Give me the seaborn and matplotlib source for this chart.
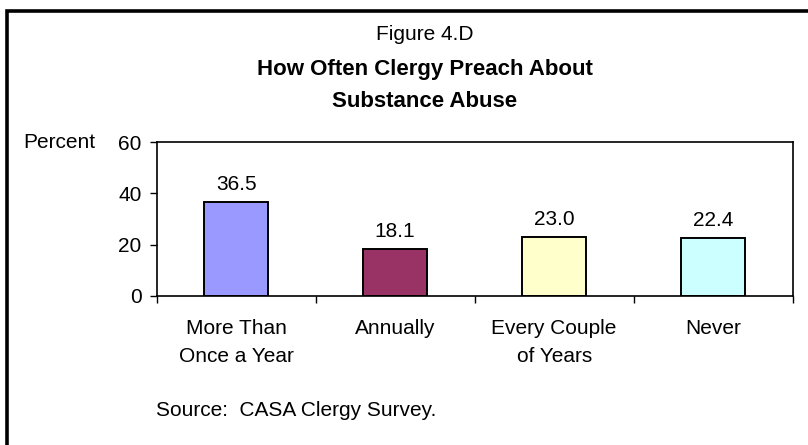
import matplotlib
matplotlib.use("Agg")
import matplotlib.pyplot as plt
import seaborn as sns
import pandas as pd
from matplotlib.patches import Rectangle

# data
categories = ["More Than\nOnce a Year", "Annually", "Every Couple\nof Years", "Never"]
percents = [36.5, 18.1, 23.0, 22.4]
bar_colors = ["#9999FF", "#993366", "#FFFFCC", "#CCFFFF"]
y_ticks = [0, 20, 40, 60]

sns.set_style("white")
plt.rcParams['font.family'] = ['Liberation Sans', 'DejaVu Sans']
plt.rcParams['text.color'] = 'black'
plt.rcParams['xtick.color'] = 'black'
plt.rcParams['ytick.color'] = 'black'
plt.rcParams['axes.labelcolor'] = 'black'

df = pd.DataFrame({'category': categories, 'percent': percents})

fig = plt.figure(figsize=(8.08, 4.45), dpi=100)
ax = fig.add_axes([0.1939, 0.3355, 0.7871, 0.3447])

sns.barplot(data=df, x='category', y='percent', hue='category',
            palette=bar_colors, legend=False, width=0.4,
            edgecolor='black', linewidth=1.4, saturation=1, ax=ax)

ax.set_ylim(0, 60)
ax.set_xlim(-0.5, 3.5)
ax.set_yticks(y_ticks)
ax.set_xlabel('')
ax.set_ylabel('')
ax.tick_params(axis='y', direction='out', length=5, width=1, pad=6,
               labelsize=15, left=True)
ax.tick_params(axis='x', bottom=False, labelsize=15, pad=13)
# tick marks between categories
ax.set_xticks([-0.5, 0.5, 1.5, 2.5, 3.5], minor=True)
ax.tick_params(axis='x', which='minor', bottom=True, direction='out',
               length=5, width=1)
for lab in ax.get_xticklabels():
    lab.set_linespacing(1.6)
for sp in ax.spines.values():
    sp.set_visible(True)
    sp.set_color('black')
    sp.set_linewidth(1.2)

for c in ax.containers:
    ax.bar_label(c, fmt='%.1f', padding=6, fontsize=15)

# outer frame (runs past the right and bottom edges)
fig.patches.append(Rectangle((7 / 808, -0.2), 1.2, 1.2 - 11 / 445,
                             transform=fig.transFigure, fill=False,
                             edgecolor='black', linewidth=2.6))

fig.text(425 / 808, 1 - 40 / 445, "Figure 4.D", ha='center', va='baseline', fontsize=15)
fig.text(425 / 808, 1 - 75 / 445, "How Often Clergy Preach About", ha='center',
         va='baseline', fontsize=16, fontweight='bold')
fig.text(425 / 808, 1 - 106.7 / 445, "Substance Abuse", ha='center',
         va='baseline', fontsize=16, fontweight='bold')
fig.text(23 / 808, 1 - 148 / 445, "Percent", ha='left', va='baseline', fontsize=15)
fig.text(156 / 808, 1 - 416 / 445, "Source:  CASA Clergy Survey.", ha='left',
         va='baseline', fontsize=15)

fig.savefig("out.png", dpi=100)
